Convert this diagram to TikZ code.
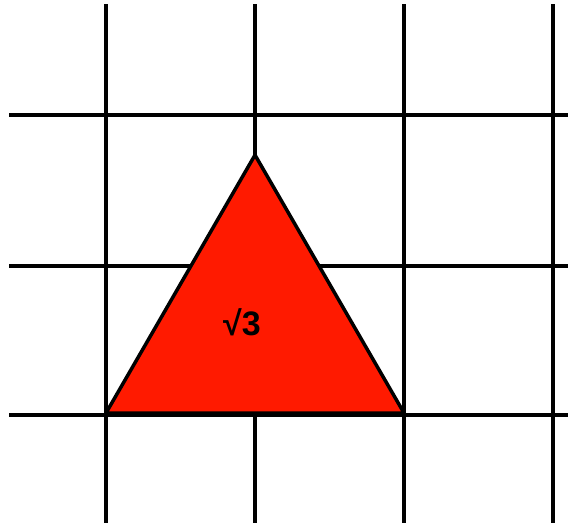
\documentclass[tikz,border=0pt]{standalone}
\usepackage{fontspec}
\setmainfont{Liberation Sans}
\usepackage{tikz}
\definecolor{cfill}{HTML}{FF1A00}

\begin{document}
\begin{tikzpicture}[x=1pt,y=-1pt,line width=4pt]
  \useasboundingbox (0,0) rectangle (568,523);
  \foreach \x in {106,255,404,553} \draw (\x,4) -- (\x,523);
  \foreach \y in {115,266,415} \draw (9,\y) -- (568,\y);
  \coordinate (a) at (106,413);
  \coordinate (b) at (404,413);
  \coordinate (c) at (255,155);
  \draw[fill=cfill,line width=3.5pt,line join=round] (a) -- (b) -- (c) -- cycle;
  \node[font=\fontsize{34}{34}\selectfont\bfseries] (lbl) at (242,322) {√3};
\end{tikzpicture}
\end{document}
